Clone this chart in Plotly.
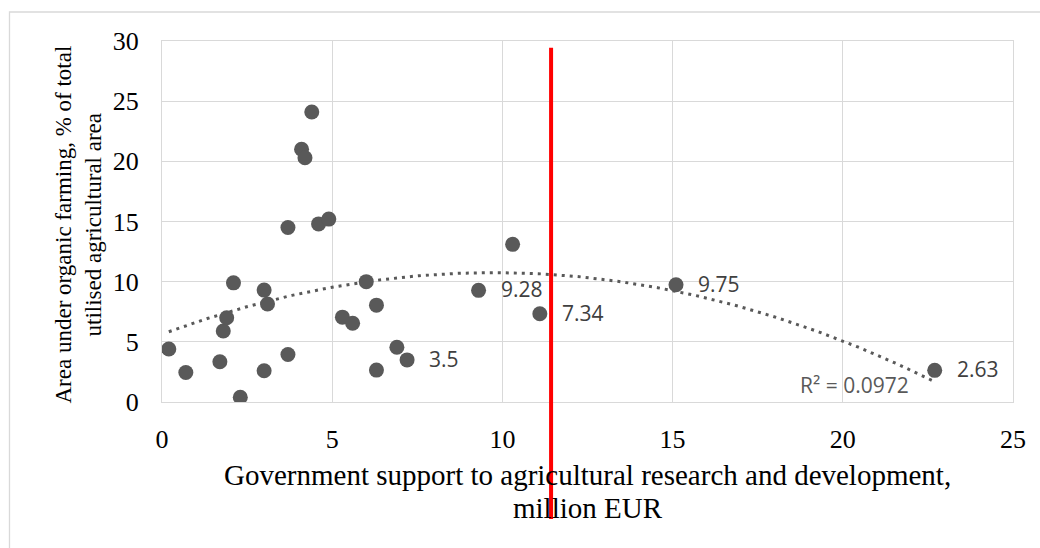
import numpy as np
import plotly.graph_objects as go

# Government support to agricultural R&D (million EUR) vs organic farming share (% of UAA)
support_rd = [0.2, 0.7, 1.7, 1.8, 1.9, 2.1, 2.3, 3.0, 3.0, 3.1,
              3.7, 3.7, 4.1, 4.2, 4.4, 4.6, 4.9, 5.3, 5.6, 6.0,
              6.3, 6.3, 6.9, 7.2, 9.3, 10.3, 11.1, 15.1, 22.7]
organic_share = [4.4, 2.45, 3.35, 5.9, 7.0, 9.9, 0.4, 9.3, 2.6, 8.15,
                 14.5, 3.95, 21.0, 20.3, 24.1, 14.8, 15.2, 7.05, 6.55, 10.0,
                 8.05, 2.65, 4.55, 3.5, 9.28, 13.1, 7.34, 9.75, 2.63]
# points whose value is printed next to the marker
labelled_values = [3.5, 9.28, 7.34, 9.75, 2.63]
rd_threshold = 11.43
x_ticks = [0, 5, 10, 15, 20, 25]
y_ticks = [0, 5, 10, 15, 20, 25, 30]
r2_text = "R² = 0.0972"

x = np.array(support_rd)
y = np.array(organic_share)

# second-order polynomial trendline
coef = np.polyfit(x, y, 2)
fit = np.poly1d(coef)
xs = np.linspace(x.min(), x.max(), 200)

GRID = "#d9d9d9"
MARK = "#595959"
SERIF = "Liberation Serif, Times New Roman, serif"
SANS = "Open Sans, Noto Sans, sans-serif"

fig = go.Figure()
fig.add_trace(go.Scatter(
    x=xs, y=fit(xs), mode="lines",
    line=dict(color=MARK, width=3, dash="3px,5px"),
    hoverinfo="skip", showlegend=False,
))
fig.add_trace(go.Scatter(
    x=support_rd, y=organic_share, mode="markers",
    marker=dict(size=15, color=MARK),
    showlegend=False,
))

annotations = []
for xv, yv in zip(support_rd, organic_share):
    if yv in labelled_values:
        annotations.append(dict(
            x=xv, y=yv, xref="x", yref="y", text=f"{yv:g}", showarrow=False,
            xanchor="left", yanchor="middle", xshift=20, yshift=1,
            font=dict(family=SANS, size=21, color="#404040"),
        ))

# trendline goodness of fit
annotations.append(dict(
    x=x.max(), y=fit(x.max()), xref="x", yref="y", text=r2_text,
    showarrow=False, xanchor="right", yanchor="middle", xshift=-24, yshift=-3,
    font=dict(family=SANS, size=21, color=MARK),
))

# axis titles
annotations += [
    dict(x=0.5, y=0, xref="paper", yref="paper", showarrow=False,
         text="Government support to agricultural research and development,",
         xanchor="center", yanchor="middle", yshift=-73,
         font=dict(family=SERIF, size=29, color="black")),
    dict(x=0.5, y=0, xref="paper", yref="paper", showarrow=False,
         text="million EUR",
         xanchor="center", yanchor="middle", yshift=-106,
         font=dict(family=SERIF, size=29, color="black")),
    dict(x=0, y=0.5, xref="paper", yref="paper", showarrow=False,
         text="Area under organic farming, % of total", textangle=-90,
         xanchor="center", yanchor="middle", xshift=-99, yshift=-3,
         font=dict(family=SERIF, size=23, color="black")),
    dict(x=0, y=0.5, xref="paper", yref="paper", showarrow=False,
         text="utilised agricultural area", textangle=-90,
         xanchor="center", yanchor="middle", xshift=-69, yshift=-3,
         font=dict(family=SERIF, size=23, color="black")),
]

shapes = [
    # chart frame
    dict(type="rect", xref="paper", yref="paper",
         x0=-0.1792, x1=1.04, y0=-0.43, y1=1.0803,
         line=dict(color=GRID, width=1.3), layer="below"),
    # threshold line
    dict(type="line", xref="x", yref="paper",
         x0=rd_threshold, x1=rd_threshold, y0=-0.324, y1=0.9814,
         line=dict(color="#ff0000", width=4), layer="above"),
]

fig.update_layout(
    width=1040, height=548,
    margin=dict(l=162, r=27, t=41, b=146),
    paper_bgcolor="white", plot_bgcolor="white",
    annotations=annotations, shapes=shapes,
    xaxis=dict(range=[0, 25], tickvals=x_ticks, showgrid=True, gridcolor=GRID,
               gridwidth=1.3, zeroline=False, showline=True, mirror=True,
               linecolor=GRID, linewidth=1.3, ticks="", ticklabelstandoff=14,
               tickfont=dict(family=SERIF, size=26, color="black")),
    yaxis=dict(range=[0, 30], tickvals=y_ticks, showgrid=True, gridcolor=GRID,
               gridwidth=1.3, zeroline=False, showline=True, mirror=True,
               linecolor=GRID, linewidth=1.3, ticks="", ticklabelstandoff=17,
               tickfont=dict(family=SERIF, size=26, color="black")),
)

fig.write_html("out.html")
